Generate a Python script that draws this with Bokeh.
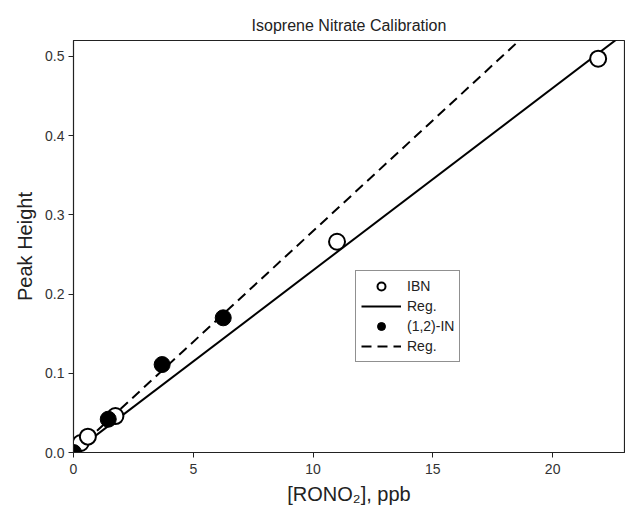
from bokeh.plotting import figure
from bokeh.models import Legend, LegendItem, Range1d, FixedTicker, CustomJSTickFormatter
from bokeh.embed import file_html
from bokeh.resources import INLINE

# Data
ibn_x = [0.0, 0.3, 0.6, 1.75, 11.0, 21.9]
ibn_y = [0.0, 0.012, 0.020, 0.046, 0.266, 0.497]
in12_x = [0.0, 1.45, 3.7, 6.25]
in12_y = [0.0, 0.042, 0.111, 0.170]
reg_ibn_x = [0.0, 23.0]
reg_ibn_y = [0.0, 0.529]
reg_in12_x = [0.0, 19.0]
reg_in12_y = [0.0, 0.531]
x_ticks = [0, 5, 10, 15, 20]
y_ticks = [0.0, 0.1, 0.2, 0.3, 0.4, 0.5]

FONT = "Liberation Sans"

p = figure(width=625, height=513, output_backend="svg", toolbar_location=None,
           x_range=Range1d(0, 23), y_range=Range1d(0, 0.52),
           min_border_left=73, min_border_right=1, min_border_top=40, min_border_bottom=61,
           title="Isoprene Nitrate Calibration")
p.title.align = "center"
p.title.text_font = FONT
p.title.text_font_size = "16px"
p.title.text_font_style = "normal"
p.title.text_color = "#222222"
p.title.offset = 0
p.title.standoff = 14

p.xgrid.visible = False
p.ygrid.visible = False
p.outline_line_color = "#222222"
p.outline_line_width = 1.2
p.background_fill_color = "white"
p.border_fill_color = "white"

for ax in (p.xaxis[0], p.yaxis[0]):
    ax.major_tick_in = 0
    ax.major_tick_out = 5
    ax.minor_tick_line_color = None
    ax.axis_line_color = "#222222"
    ax.major_tick_line_color = "#222222"
    ax.major_label_text_font = FONT
    ax.major_label_text_font_size = "14px"
    ax.major_label_text_color = "#333333"
    ax.axis_label_text_font = FONT
    ax.axis_label_text_font_size = "20px"
    ax.axis_label_text_font_style = "normal"
    ax.axis_label_text_color = "#222222"

p.xaxis.ticker = FixedTicker(ticks=x_ticks)
p.yaxis.ticker = FixedTicker(ticks=y_ticks)
p.yaxis.formatter = CustomJSTickFormatter(code="return tick.toFixed(1);")
p.xaxis.axis_label = "[RONO\u2082], ppb"
p.yaxis.axis_label = "Peak Height"
p.xaxis.major_label_standoff = 6
p.xaxis.axis_label_standoff = 6
p.yaxis.major_label_standoff = 4
p.yaxis.axis_label_standoff = 6

l1 = p.line(reg_ibn_x, reg_ibn_y, line_color="black", line_width=2)
l2 = p.line(reg_in12_x, reg_in12_y, line_color="black", line_width=2, line_dash="10 6")
c1 = p.scatter(ibn_x, ibn_y, marker="circle", size=16, fill_color="white",
               line_color="black", line_width=2)
c2 = p.scatter(in12_x, in12_y, marker="circle", size=16, fill_color="black",
               line_color="black", line_width=1)

legend = Legend(items=[
    LegendItem(label="IBN", renderers=[c1]),
    LegendItem(label="Reg.", renderers=[l1]),
    LegendItem(label="(1,2)-IN", renderers=[c2]),
    LegendItem(label="Reg.", renderers=[l2]),
], location=(282, 90))
legend.label_text_font = FONT
legend.label_text_font_size = "14px"
legend.label_text_color = "#222222"
legend.glyph_width = 40
legend.glyph_height = 20
legend.label_height = 18
legend.spacing = 0
legend.padding = 5
legend.margin = 0
legend.label_standoff = 6
legend.border_line_color = "#222222"
legend.border_line_width = 1
legend.background_fill_alpha = 1
p.add_layout(legend, "center")

open("out.html", "w").write(file_html(p, INLINE))
